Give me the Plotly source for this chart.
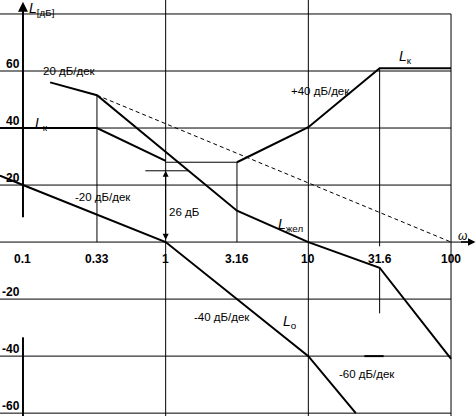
import math
import plotly.graph_objects as go

# ---------------- data ----------------
x_ticks = [0.1, 0.33, 1, 3.16, 10, 31.6, 100]
x_tick_labels = ["0.1", "0.33", "1", "3.16", "10", "31.6", "100"]
y_ticks = [60, 40, 20, -20, -40, -60]
y_tick_labels = ["60", "40", "20", "-20", "-40", "-60"]

# uncorrected system L0
omega_0 = [0.069, 0.1, 1, 10, 21.5]
L_0 = [23.3, 20, 0, -40, -60]

# desired characteristic L_жел
omega_zh = [0.155, 0.33, 3.16, 10, 31.6, 100]
L_zh = [56, 51.5, 11, 0, -9, -41]

# dashed continuation of -20 dB/dec
omega_dash = [0.33, 100]
L_dash = [51.5, 0]

# corrector L_к (flat segment 1..3.16 drawn thin)
omega_k1 = [0.069, 0.33, 1]
L_k1 = [40, 40, 28.5]
omega_k2 = [1, 3.16]
L_k2 = [28, 28]
omega_k3 = [3.16, 10, 31.6, 100]
L_k3 = [28, 40.3, 61, 61]

# 26 dB marker
marker_omega = [0.72, 1.45]
marker_L = [25, 25]

# short thick dash at -40
short_omega = [24.7, 33.7]
short_L = [-40, -40]

# visible window
LOG_X0, LOG_X1 = -1.161, 2.175
Y_MIN, Y_MAX = -61.0, 84.9
X_MIN = 0.069
X_ARROW = 10 ** 2.172

grid_levels = [80, 60, 40, 20, -20, -40, -60]
# vertical grid segments: (omega, top dB, bottom dB)
v_segments = [
    (0.33, 51.5, 0),
    (1, 86, Y_MIN),
    (3.16, 28, 0),
    (10, 86, Y_MIN),
    (31.6, 61, -1.5),
    (31.6, -9, -25),
    (100, 80, Y_MIN),
]
axis_omega = 0.1
axis_segments = [(83, 8.7), (-33.4, -61)]

# ---------------- figure ----------------
fig = go.Figure()

gx, gy = [], []
for lev in grid_levels:
    gx += [X_MIN, 100, None]
    gy += [lev, lev, None]
for om, top, bot in v_segments:
    gx += [om, om, None]
    gy += [top, bot, None]
gx += [X_MIN, X_ARROW * 0.97, None]
gy += [0, 0, None]
fig.add_trace(go.Scatter(x=gx, y=gy, mode="lines",
                         line=dict(color="black", width=1), hoverinfo="skip"))

thick = dict(color="black", width=2)
fig.add_trace(go.Scatter(x=omega_0, y=L_0, mode="lines", line=thick))
fig.add_trace(go.Scatter(x=omega_zh, y=L_zh, mode="lines", line=thick))
fig.add_trace(go.Scatter(x=omega_dash, y=L_dash, mode="lines",
                         line=dict(color="black", width=1, dash="4px,3px")))
fig.add_trace(go.Scatter(x=omega_k1, y=L_k1, mode="lines", line=thick))
fig.add_trace(go.Scatter(x=omega_k2, y=L_k2, mode="lines",
                         line=dict(color="black", width=1)))
fig.add_trace(go.Scatter(x=omega_k3, y=L_k3, mode="lines", line=thick))
fig.add_trace(go.Scatter(x=marker_omega, y=marker_L, mode="lines",
                         line=dict(color="black", width=1)))
fig.add_trace(go.Scatter(x=short_omega, y=short_L, mode="lines", line=thick))
for top, bot in axis_segments:
    fig.add_trace(go.Scatter(x=[axis_omega, axis_omega], y=[top, bot], mode="lines",
                             line=dict(color="black", width=2), hoverinfo="skip"))

FONT = "Liberation Sans, Arial, sans-serif"
ann = []
lg = math.log10
for v, t in zip(x_ticks, x_tick_labels):
    ann.append(dict(x=lg(v), y=0, xref="x", yref="y", text=f"<b>{t}</b>",
                    showarrow=False, yshift=-17,
                    font=dict(family=FONT, size=12, color="black")))
for v, t in zip(y_ticks, y_tick_labels):
    ann.append(dict(x=lg(0.1) - 0.5 / 142.7, y=v, xref="x", yref="y", text=f"<b>{t}</b>",
                    showarrow=False, xanchor="right", yshift=7,
                    font=dict(family=FONT, size=12, color="black")))

txt = dict(family=FONT, size=11.5, color="black")
for (lx, yy, t) in [(-0.671, 60, "20 дБ/дек"), (1.088, 53, "+40 дБ/дек"),
                    (-0.439, 15.8, "-20 дБ/дек"), (0.126, 10.6, "26 дБ"),
                    (0.395, -26.3, "-40 дБ/дек"), (1.411, -46.3, "-60 дБ/дек")]:
    ann.append(dict(x=lx, y=yy, xref="x", yref="y", text=t, showarrow=False, font=txt))

Lfont = dict(family=FONT, size=14, color="black")
for (lx, yy, t) in [(-0.972, 81.8, "<i>L</i><sub>[дБ]</sub>"),
                    (-0.93, 41.3, "<i>L</i><sub>к</sub>"),
                    (1.618, 65.0, "<i>L</i><sub>к</sub>"),
                    (0.77, 6.0, "<i>L</i><sub>жел</sub>"),
                    (0.805, -28.0, "<i>L</i><sub>о</sub>")]:
    ann.append(dict(x=lx, y=yy, xref="x", yref="y", text=t, showarrow=False,
                    xanchor="left", font=Lfont))
ann.append(dict(x=2.083, y=2.1, xref="x", yref="y", text="<i>ω</i>", showarrow=False,
                font=dict(family=FONT, size=12, color="black")))

# axis arrows
ann.append(dict(x=lg(0.1), y=84.3, xref="x", yref="y", ax=0, ay=14, text="",
                showarrow=True, arrowhead=2, arrowsize=1, arrowwidth=2, arrowcolor="black"))
ann.append(dict(x=2.1715, y=0, xref="x", yref="y", ax=-16, ay=0, text="",
                showarrow=True, arrowhead=2, arrowsize=1, arrowwidth=1.5, arrowcolor="black"))
# 26 dB double arrow
ann.append(dict(x=0, y=25, xref="x", yref="y", axref="x", ayref="y", ax=0, ay=0.3, text="",
                showarrow=True, arrowhead=2, startarrowhead=2, arrowside="end+start",
                arrowsize=1.2, startarrowsize=1.2, arrowwidth=1, arrowcolor="black"))

fig.update_layout(
    width=476, height=416,
    margin=dict(l=0, r=0, t=0, b=0),
    paper_bgcolor="white", plot_bgcolor="white",
    showlegend=False,
    xaxis=dict(type="log", range=[LOG_X0, LOG_X1], visible=False, fixedrange=True),
    yaxis=dict(range=[Y_MIN, Y_MAX], visible=False, fixedrange=True),
    annotations=ann,
)
fig.write_html("out.html",
               config={"displayModeBar": False, "staticPlot": True},
               post_script="document.body.style.margin='0px';document.body.style.overflow='hidden';")
